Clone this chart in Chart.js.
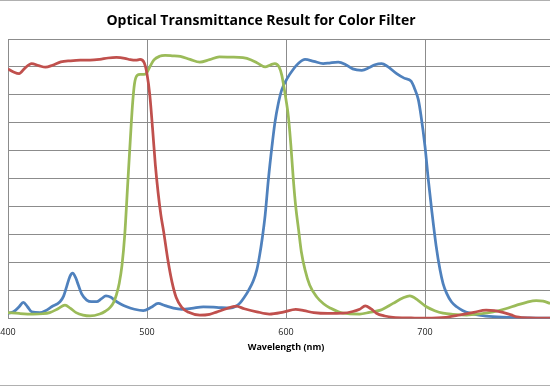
<!DOCTYPE html>
<html>
<head>
<meta charset="utf-8">
<script src="https://cdn.jsdelivr.net/npm/chart.js@4"></script>
<style>
  html, body { margin: 0; padding: 0; background: #fff; }
  body { width: 550px; height: 386px; overflow: hidden; position: relative; }
  #frame { position: absolute; left: 0; top: 0; width: 550px; height: 384px;
           border-top: 1px solid #b0b0b0; border-bottom: 1px solid #b0b0b0; }
  #title { position: absolute; left: 0; width: 522px; top: 10px; text-align: center;
           font-family: "Open Sans", sans-serif; font-weight: bold; font-size: 14px; color: #000; }
  #wrap { position: absolute; left: 0; top: 0; width: 566px; height: 386px; }
</style>
</head>
<body>
<div id="frame"></div>
<div id="wrap"><canvas id="myChart" width="566" height="386"></canvas></div>
<div id="title">Optical Transmittance Result for Color Filter</div>
<script>
// wavelength (nm) and transmittance (%)
var RedWl = [400, 404, 408, 412, 417, 422, 427, 432, 438, 445, 452, 459, 466, 472, 478, 484, 488, 492, 495, 498,
    500, 502, 504, 506, 508, 510, 512, 515, 518, 521, 525, 530, 538, 545, 550, 557, 564, 570, 579, 588,
    598, 607, 613, 620, 630, 641, 648, 653, 657, 661, 665, 671, 677, 690, 701, 715, 725, 735, 744, 750,
    756, 762, 766, 775, 790];
var RedT = [89.3, 88.2, 87.6, 89.5, 91.2, 90.5, 89.9, 90.6, 91.8, 92.2, 92.4, 92.4, 92.7, 93.2, 93.4, 93.1, 92.6, 92.4, 92.7, 91.5,
    87.5, 80, 68, 55, 45, 37, 31, 21, 13, 7.5, 4, 2.2, 1.2, 1.5, 2.3, 3.5, 4.4, 3.5, 2.4, 1.6,
    2.3, 3.3, 2.8, 2.1, 1.8, 1.9, 2.5, 3.3, 4.5, 3.5, 1.9, 0.9, 0.4, 0.2, 0.1, 0.4, 1.25, 2.2, 3.0, 2.8,
    2.2, 1.3, 0.6, 0.2, 0.1];

var GreenWl = [400, 408, 418, 425, 430, 436, 441, 445, 449, 454, 459, 466, 470, 473.5, 476, 478, 480, 482, 484, 486,
    488, 489.5, 491, 493, 495, 498, 500, 502, 505, 509, 513, 518, 524, 531, 538, 545, 552, 560, 569, 575,
    579, 585, 589, 592, 595, 597, 598, 600, 601.7, 603.5, 605.3, 607, 609, 611, 613.7, 617, 622, 627, 632, 641,
    653, 660, 668, 677, 684, 689, 695, 701, 707, 713, 720, 730, 740, 749, 758, 766, 773, 780, 785, 790];
var GreenT = [2.1, 1.8, 1.6, 1.7, 2.1, 3.5, 4.8, 3.6, 2.1, 1.2, 0.9, 1.6, 2.6, 4.0, 5.8, 8.5, 12.5, 19, 30, 47,
    64, 76, 84, 87, 87.3, 87.3, 88, 90, 92.5, 93.8, 94.1, 94, 93.8, 92.7, 91.7, 92.6, 93.6, 93.5, 93.3, 92.5,
    91.5, 90, 90.8, 91.2, 90, 87, 84.3, 78.3, 72.3, 62, 49.6, 40, 32, 24, 17.4, 12, 7.8, 5.3, 3.7, 1.9,
    1.6, 2.2, 3.0, 5.4, 7.3, 8.1, 6.5, 4.2, 2.8, 1.9, 1.5, 1.25, 1.7, 2.4, 3.5, 4.8, 5.8, 6.4, 6.2, 5.4];

var BlueWl = [400, 404, 408, 411, 414, 417, 423, 427, 431.4, 437.4, 440, 442.2, 444.5, 446.5, 448.5, 450.6, 453, 456.6, 460, 463.8,
    467, 470.5, 474, 477, 481, 485.4, 491, 497.3, 503, 508, 513, 519, 525, 532, 540.5, 550, 559.7, 564, 567, 570,
    573, 576.5, 579, 581, 583, 585, 587.3, 590, 592, 594.5, 597, 601, 605, 609, 613.7, 620, 626.8, 632, 637.6, 643, 648,
    654.5, 660, 664, 668.8, 673, 679.6, 685, 690, 692.8, 695.2, 697, 700, 702.4, 705, 708, 710.8, 713, 715.6, 719, 722.8,
    727, 732.4, 740, 749, 765, 790];
var BlueT = [1.9, 2.4, 4.2, 5.8, 4.2, 2.4, 2.1, 2.8, 4.2, 6.0, 8, 11.4, 15, 16.2, 14.8, 12.0, 8.8, 6.6, 6.0, 6.0,
    7.0, 8.1, 7.6, 6.4, 5.2, 4.2, 3.3, 2.8, 4.0, 5.4, 4.6, 3.7, 3.3, 3.6, 4.2, 4.0, 3.7, 4.4, 5.6, 7.6,
    10, 13.5, 17.4, 22.5, 29, 37, 49.6, 62, 70, 77, 81.9, 86, 89, 91.3, 92.7, 92, 91.2, 91.5, 91.7, 90.8, 89.3,
    88.8, 89.8, 90.8, 91.2, 90.2, 87.6, 86, 84.9, 81.9, 78.3, 73, 61.6, 49.6, 38, 26, 17.4, 12.5, 9.0, 6, 4.2,
    2.9, 1.9, 1.1, 0.65, 0.3, 0.1];

var XTicks = [400, 500, 600, 700, 800];

function toPoints(wl, t) {
    var pts = [];
    for (var i = 0; i < wl.length; i++) {
        pts.push({ x: wl[i], y: t[i] });
    }
    return pts;
}

var gridColor = '#8c8c8c';

const ctx = document.getElementById('myChart');
const myChart = new Chart(ctx, {
    type: 'line',
    data: {
        datasets: [{
            label: 'Red',
            data: toPoints(RedWl, RedT),
            borderColor: '#c0504d',
            borderWidth: 2.75,
            pointRadius: 0,
            cubicInterpolationMode: 'monotone'
        }, {
            label: 'Green',
            data: toPoints(GreenWl, GreenT),
            borderColor: '#9bbb59',
            borderWidth: 2.75,
            pointRadius: 0,
            cubicInterpolationMode: 'monotone'
        }, {
            label: 'Blue',
            data: toPoints(BlueWl, BlueT),
            borderColor: '#4f81bd',
            borderWidth: 2.75,
            pointRadius: 0,
            cubicInterpolationMode: 'monotone'
        }]
    },
    options: {
        responsive: false,
        animation: false,
        layout: { padding: { left: 8, right: 2, top: 39, bottom: 33 } },
        plugins: {
            legend: { display: false },
            tooltip: { enabled: false }
        },
        scales: {
            x: {
                type: 'linear',
                min: 400,
                max: 800,
                afterBuildTicks: function (axis) {
                    axis.ticks = XTicks.map(function (v) { return { value: v }; });
                },
                afterFit: function (axis) {
                    // no extra room for half labels, fixed height for labels + title
                    axis.paddingLeft = 0;
                    axis.paddingRight = 0;
                    axis.height = 34.5;
                },
                grid: { color: gridColor, drawTicks: false },
                border: { color: gridColor },
                ticks: {
                    padding: 9,
                    color: '#222',
                    font: { family: 'Open Sans', size: 9 }
                },
                title: {
                    display: true,
                    text: 'Wavelength (nm)',
                    color: '#000',
                    padding: { top: 3, bottom: 0 },
                    font: { family: 'Open Sans', size: 9, weight: 'bold' }
                }
            },
            y: {
                min: 0,
                max: 100,
                afterFit: function (axis) {
                    axis.width = 0;
                },
                ticks: { display: false, stepSize: 10 },
                grid: { color: gridColor, drawTicks: false },
                border: { color: gridColor }
            }
        }
    }
});
</script>
</body>
</html>
